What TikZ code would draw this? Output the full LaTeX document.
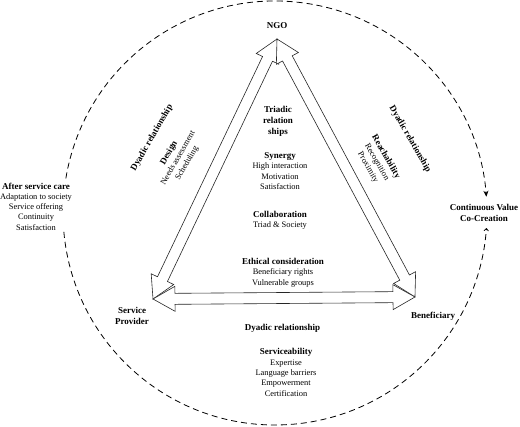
\documentclass[tikz,border=0pt]{standalone}
\usepackage{fontspec}
\setmainfont{Liberation Serif}
\usetikzlibrary{calc,arrows.meta}

\newcommand\hd[1]{{\fontsize{9}{10.3}\selectfont\bfseries #1}}

\tikzset{
  blockarrow/.style={draw=black!85, line width=.6, fill=white, line join=miter},
  ring/.style={line width=.8, dash pattern=on 6pt off 4pt},
  txt/.style={align=center, inner sep=1pt, font=\fontsize{8.4}{10.3}\selectfont},
  bold/.style={align=center, inner sep=1pt, font=\fontsize{9}{11}\selectfont\bfseries}
}

% block arrow with a head at both ends, from #1 to #2
\newcommand\duoarrow[2]{%
  \draw[blockarrow] let \p1=($(#2)-(#1)$), \n1={veclen(\x1,\y1)}, \n2={atan2(\y1,\x1)} in
    [shift={(#1)}, rotate=\n2] (0,0) -- (22,12.5) -- (22,5.5) -- (\n1-22,5.5) -- (\n1-22,12.5)
    -- (\n1,0) -- (\n1-22,-12.5) -- (\n1-22,-5.5) -- (22,-5.5) -- (22,-12.5) -- cycle;}

\begin{document}
\begin{tikzpicture}[x=1pt, y=1pt]
        \useasboundingbox (0,0) rectangle (520,427);
        \coordinate (hub) at (275,214);
        \coordinate (ngoTip) at (277,388);
        \coordinate (provTip) at (153,128);
        \coordinate (benTip) at (415,130);
        % the three dyads
        \duoarrow{provTip}{ngoTip}
        \duoarrow{ngoTip}{benTip}
        \duoarrow{provTip}{benTip}
        % value cycle
        \coordinate (ringA) at ([shift={(170.6:212)}]hub);
        \coordinate (ringB) at ([shift={(185.1:212)}]hub);
        \draw [ring, -{Stealth[length=6pt, width=5pt]}] (ringA) arc [start angle=170.6, end angle=4.4, radius=212];
        \draw [ring, -{To[length=3pt, width=5pt]}] (ringB) arc [start angle=185.1, end angle=355.9, radius=212];
        \node [bold] (ngo) at (277,401) {NGO};
        \node [bold] (triad) at (278,306) {Triadic\\relation\\ships};
        \node [txt] (synergy) at (280,256) {\hd{Synergy}\\High interaction\\Motivation\\Satisfaction};
        \node [txt] (collab) at (280,207) {\hd{Collaboration}\\Triad \& Society};
        \node [txt] (ethics) at (283,154.5) {\hd{Ethical consideration}\\Beneficiary rights\\Vulnerable groups};
        \node [bold] (provider) at (132,111.5) {Service\\Provider};
        \node [bold] (benef) at (433,111) {Beneficiary};
        \node [bold] (dyadB) at (282.5,99) {Dyadic relationship};
        \node [txt] (service) at (286,54.5) {\hd{Serviceability}\\Expertise\\Language barriers\\Empowerment\\Certification};
        \node [txt] (after) at (36,220.5) {\hd{After service care}\\Adaptation to society\\Service offering\\Continuity\\Satisfaction};
        \node [bold] (cocreate) at (484,214.5) {Continuous Value\\Co-Creation};
        \node [bold, rotate=60] (dyadL) at (152,289) {Dyadic relationship};
        \node [txt, rotate=60] (design) at (178,269) {\hd{Design}\\Needs assessment\\Scheduling};
        \node [bold, rotate=-60] (dyadR) at (410,288) {Dyadic relationship};
        \node [txt, rotate=-60] (reach) at (377,265) {\hd{Reachability}\\Recognition\\Proximity};
    \end{tikzpicture}
\end{document}
